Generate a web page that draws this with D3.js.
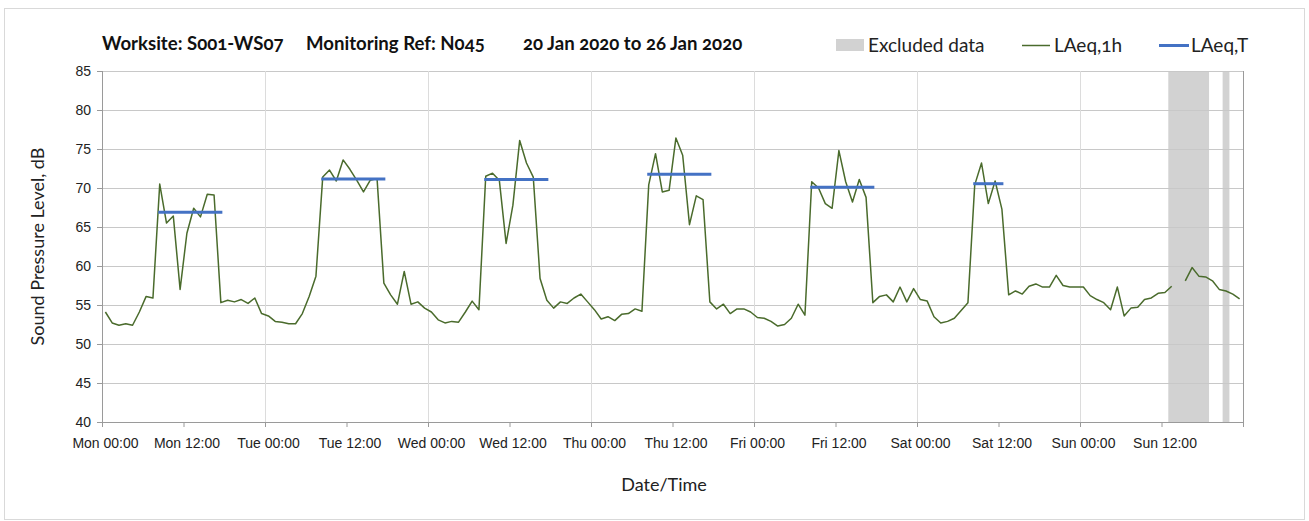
<!DOCTYPE html>
<html lang="en">
<head>
    <meta charset="UTF-8">
    <title>Noise monitoring S001-WS07</title>
    <script src="https://cdn.jsdelivr.net/npm/d3@7"></script>
    <style>
        body {
            margin: 0;
            background: #ffffff;
        }

        svg {
            font-family: Lato, "Open Sans", sans-serif;
            font-variant-numeric: oldstyle-nums;
        }

        .grid-h line {
            stroke: #c8c8c8;
        }

        .grid-v line {
            stroke: #dcdcdc;
        }

        .axis path, .axis line {
            stroke: #9a9a9a;
        }

        .axis text {
            fill: #222;
            font-size: 14px;
        }
    </style>
</head>
<body>
<svg width="1309" height="521"></svg>

<script>
    // hourly LAeq,1h (value at each hour, Mon 00:00 = hour 0), null = no data
    var laeq1h = [
        // Mon
        54.1, 52.7, 52.4, 52.6, 52.4, 54.1, 56.1, 55.9, 70.5, 65.5, 66.4, 57.0,
        64.2, 67.4, 66.3, 69.2, 69.1, 55.3, 55.6, 55.4, 55.7, 55.2, 55.9, 53.9,
        // Tue
        53.6, 52.9, 52.8, 52.6, 52.6, 53.9, 56.1, 58.7, 71.4, 72.3, 70.9, 73.6,
        72.4, 71.0, 69.5, 71.0, 71.2, 57.8, 56.3, 55.1, 59.3, 55.1, 55.4, 54.6,
        // Wed
        54.1, 53.1, 52.7, 52.9, 52.8, 54.1, 55.5, 54.4, 71.5, 71.9, 71.0, 62.9,
        67.8, 76.1, 73.2, 71.4, 58.4, 55.6, 54.6, 55.4, 55.2, 55.9, 56.4, 55.4,
        // Thu
        54.4, 53.2, 53.5, 53.0, 53.8, 53.9, 54.5, 54.2, 70.4, 74.4, 69.5, 69.7,
        76.4, 74.2, 65.3, 69.0, 68.5, 55.4, 54.5, 55.1, 53.9, 54.5, 54.5, 54.1,
        // Fri
        53.4, 53.3, 52.9, 52.3, 52.5, 53.3, 55.1, 53.7, 70.8, 70.0, 68.0, 67.4,
        74.8, 70.8, 68.2, 71.1, 68.8, 55.3, 56.1, 56.3, 55.4, 57.3, 55.4, 57.1,
        // Sat
        55.7, 55.5, 53.5, 52.7, 52.9, 53.3, 54.3, 55.3, 70.4, 73.2, 68.0, 70.9,
        67.3, 56.3, 56.8, 56.4, 57.4, 57.7, 57.3, 57.3, 58.8, 57.5, 57.3, 57.3,
        // Sun
        57.3, 56.2, 55.7, 55.3, 54.4, 57.3, 53.6, 54.6, 54.7, 55.7, 55.9, 56.5,
        56.6, 57.4, null, 58.1, 59.8, 58.7, 58.6, 58.1, 57.0, 56.8, 56.4, 55.8
    ];

    // LAeq,T over each working period (hours from Mon 00:00)
    var periodStart = [8, 32, 56, 80, 104, 128];
    var periodEnd = [18, 42, 66, 90, 114, 133];
    var periodValue = [66.9, 71.15, 71.1, 71.75, 70.1, 70.55];

    // excluded data windows (hours)
    var excluded = [[157, 163], [165, 166]];

    var days = ['Mon', 'Tue', 'Wed', 'Thu', 'Fri', 'Sat', 'Sun'];
    var yTicks = [40, 45, 50, 55, 60, 65, 70, 75, 80, 85];

    var svg = d3.select('svg');
    var margin = {left: 102, right: 66, top: 71, bottom: 99};
    var width = 1309 - margin.left - margin.right;
    var height = 521 - margin.top - margin.bottom;

    // outer chart frame
    svg.append('rect')
        .attr('x', 4.5)
        .attr('y', 8.5)
        .attr('width', 1300)
        .attr('height', 511)
        .attr('fill', 'none')
        .attr('stroke', '#d9d9d9');

    var x = d3.scaleLinear().domain([0, 168]).range([0, width]);
    var y = d3.scaleLinear().domain([40, 85]).range([height, 0]);

    var g = svg.append('g')
        .attr('transform', 'translate(' + margin.left + ',' + margin.top + ')');

    // excluded bands
    g.selectAll('.excl')
        .data(excluded)
        .enter().append('rect')
        .attr('class', 'excl')
        .attr('x', function (d) { return x(d[0]); })
        .attr('width', function (d) { return x(d[1]) - x(d[0]); })
        .attr('y', 0)
        .attr('height', height)
        .attr('fill', '#d2d2d2');

    // grid
    g.append('g')
        .attr('class', 'grid-h')
        .selectAll('line')
        .data(yTicks.slice(1))
        .enter().append('line')
        .attr('x1', 0)
        .attr('x2', width)
        .attr('y1', function (d) { return Math.round(y(d)) + 0.5; })
        .attr('y2', function (d) { return Math.round(y(d)) + 0.5; });

    g.append('g')
        .attr('class', 'grid-v')
        .selectAll('line')
        .data(d3.range(24, 168, 24))
        .enter().append('line')
        .attr('x1', function (d) { return Math.round(x(d)) + 0.5; })
        .attr('x2', function (d) { return Math.round(x(d)) + 0.5; })
        .attr('y1', 0)
        .attr('y2', height);

    // right frame line
    g.append('line')
        .attr('x1', Math.round(x(168)) + 0.5)
        .attr('x2', Math.round(x(168)) + 0.5)
        .attr('y1', 0)
        .attr('y2', height + 5)
        .attr('stroke', '#9a9a9a');

    // axes
    var xAxis = d3.axisBottom(x)
        .tickValues(d3.range(0, 169, 12))
        .tickSize(5)
        .tickFormat(function (d) {
            if (d >= 168) return '';
            return days[Math.floor(d / 24)] + ' ' + (d % 24 === 0 ? '00:00' : '12:00');
        });

    var gx = g.append('g')
        .attr('class', 'axis')
        .attr('transform', 'translate(0,' + height + ')')
        .call(xAxis);
    gx.select('.domain').attr('d', 'M0.5,0.5H' + width);
    gx.selectAll('.tick text')
        .attr('dy', null)
        .attr('y', 26)
        .attr('dx', 3);

    var yAxis = d3.axisLeft(y)
        .tickValues(yTicks)
        .tickSize(5)
        .tickPadding(6);

    var gy = g.append('g')
        .attr('class', 'axis')
        .call(yAxis);
    gy.select('.domain').attr('d', 'M0.5,0V' + height);

    // LAeq,1h line
    var line = d3.line()
        .defined(function (d) { return d !== null; })
        .x(function (d, i) { return x(i + 0.5); })
        .y(function (d) { return y(d); });

    g.append('path')
        .datum(laeq1h)
        .attr('d', line)
        .attr('fill', 'none')
        .attr('stroke', '#4a6b2c')
        .attr('stroke-width', 1.5)
        .attr('stroke-linejoin', 'round');

    // LAeq,T lines
    g.selectAll('.laeqT')
        .data(periodValue)
        .enter().append('line')
        .attr('class', 'laeqT')
        .attr('x1', function (d, i) { return x(periodStart[i] + 0.5); })
        .attr('x2', function (d, i) { return x(periodEnd[i] - 0.5); })
        .attr('y1', function (d) { return y(d); })
        .attr('y2', function (d) { return y(d); })
        .attr('stroke', '#4472c4')
        .attr('stroke-width', 3)
        .attr('stroke-linecap', 'square');

    // title
    var title = svg.append('g')
        .style('font-weight', 'bold')
        .style('font-size', '18.6px')
        .attr('fill', '#111');
    title.append('text').attr('x', 102).attr('y', 50).text('Worksite: S001-WS07');
    title.append('text').attr('x', 306).attr('y', 50).text('Monitoring Ref: N045');
    title.append('text').attr('x', 523).attr('y', 50).text('20 Jan 2020 to 26 Jan 2020');

    // legend
    var legend = svg.append('g').style('font-size', '19px').attr('fill', '#222');
    legend.append('rect')
        .attr('x', 836).attr('y', 39).attr('width', 28).attr('height', 12)
        .attr('fill', '#d2d2d2');
    legend.append('text').attr('x', 868).attr('y', 52).text('Excluded data');
    legend.append('line')
        .attr('x1', 1022).attr('x2', 1050).attr('y1', 45.5).attr('y2', 45.5)
        .attr('stroke', '#4a6b2c').attr('stroke-width', 1.5);
    legend.append('text').attr('x', 1054).attr('y', 52).text('LAeq,1h');
    legend.append('line')
        .attr('x1', 1159).attr('x2', 1189).attr('y1', 45.5).attr('y2', 45.5)
        .attr('stroke', '#4472c4').attr('stroke-width', 3);
    legend.append('text').attr('x', 1191).attr('y', 52).text('LAeq,T');

    // axis titles
    svg.append('text')
        .attr('transform', 'translate(44,' + (margin.top + height / 2) + ') rotate(-90)')
        .attr('text-anchor', 'middle')
        .style('font-size', '18px')
        .attr('fill', '#222')
        .text('Sound Pressure Level, dB');

    svg.append('text')
        .attr('x', 664)
        .attr('y', 491)
        .attr('text-anchor', 'middle')
        .style('font-size', '18px')
        .attr('fill', '#222')
        .text('Date/Time');
</script>
</body>
</html>
